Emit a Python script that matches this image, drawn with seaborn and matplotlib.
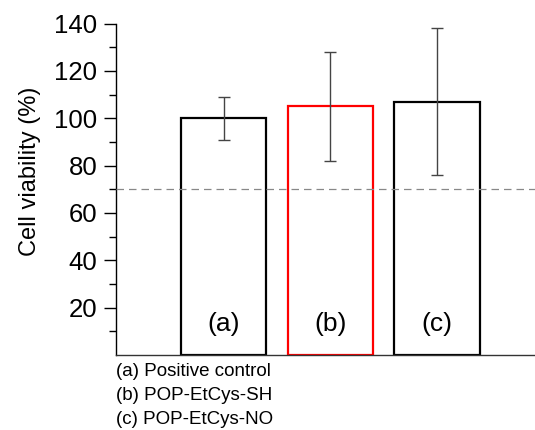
import matplotlib
matplotlib.use("Agg")
import matplotlib.pyplot as plt
import seaborn as sns
import pandas as pd
import numpy as np

categories = ["(a)", "(b)", "(c)"]
viability = [100, 105, 107]
errors = [9, 23, 31]
edge_colors = ["black", "red", "black"]
legend_lines = ["(a) Positive control", "(b) POP-EtCys-SH", "(c) POP-EtCys-NO"]
threshold = 70
yticks = [20, 40, 60, 80, 100, 120, 140]

sns.set_style("ticks")
plt.rcParams['font.family'] = ['Liberation Sans', 'DejaVu Sans']
plt.rcParams['text.color'] = 'black'
plt.rcParams['axes.labelcolor'] = 'black'
plt.rcParams['ytick.color'] = 'black'
plt.rcParams['xtick.color'] = 'black'
plt.rcParams['axes.edgecolor'] = 'black'

fig = plt.figure(figsize=(5.35, 4.3), dpi=100)
ax = fig.add_axes([0.2168, 0.1744, 0.7832, 0.7706])

df = pd.DataFrame({"cat": categories, "val": viability})
sns.barplot(data=df, x="cat", y="val", ax=ax, color="white", width=0.8,
            errorbar=None, zorder=2)
for patch, ec in zip(ax.patches, edge_colors):
    patch.set_edgecolor(ec)
    patch.set_linewidth(1.6)
    patch.set_facecolor("white")

xs = np.arange(len(categories))
ax.errorbar(xs, viability, yerr=errors, fmt="none", ecolor="#444444",
            elinewidth=1.0, capsize=4.5, capthick=1.0, zorder=3)

ax.axhline(threshold, color="#888888", lw=0.9, ls=(0, (6, 4)), zorder=4)

for x, lab in zip(xs, categories):
    ax.text(x, 13, lab, ha="center", va="center", fontsize=19, zorder=4)

ax.set_xlim(-1.01, 2.92)
ax.set_ylim(0, 140)
ax.set_xticks([])
ax.set_xlabel("")
ax.set_yticks(yticks)
ax.set_yticks(np.arange(10, 140, 20), minor=True)
ax.tick_params(axis="y", which="major", length=8.5, width=1.0, labelsize=18.5, pad=5)
ax.tick_params(axis="y", which="minor", length=5, width=1.0)
ax.set_ylabel("Cell viability (%)", fontsize=17)
ax.yaxis.set_label_coords(-0.179, 0.553)

for s in ["top", "right"]:
    ax.spines[s].set_visible(False)
ax.spines["left"].set_linewidth(1.0)
ax.spines["bottom"].set_linewidth(1.0)
ax.spines["bottom"].set_color("#333333")

for i, line in enumerate(legend_lines):
    fig.text(116 / 535, 1 - (372 + i * 23.5) / 430, line, ha="left", va="center",
             fontsize=13.5)

fig.savefig("out.png", dpi=100)
